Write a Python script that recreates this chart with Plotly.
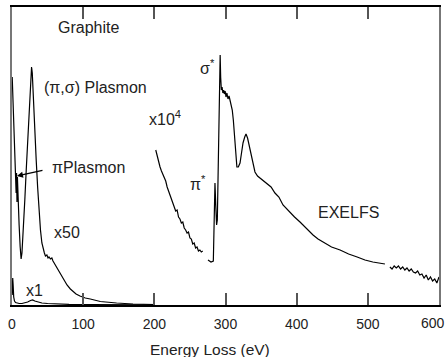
import plotly.graph_objects as go

# ---- data (energy loss in eV, intensity in arbitrary units) ----
x1_energy = [0.3, 1.0, 1.6, 2.4, 3.5, 5, 7, 10, 14, 18, 22, 26, 29, 32, 36, 42, 50, 60, 80, 110, 150, 200]
x1_intensity = [10, 27, 20, 8, 4, 2.5, 1.8, 1.5, 1.5, 2, 3, 4.5, 5, 4, 3, 2, 1.5, 1, 0.7, 0.5, 0.3, 0.2]

x50_energy = [0.3, 1.2, 2.2, 3.2, 4.2, 5.2, 5.8, 6.4, 7.0, 7.6, 8.5, 10, 11.5, 12.8, 14, 16, 18, 20, 22, 24,
              26, 27.5, 28.5, 30, 32, 34, 36, 38, 40, 42, 43.6, 45.5, 47, 49, 50.6, 52, 54, 56, 57.6, 60,
              63, 66, 70, 73, 77.3, 82, 86, 90, 95.5, 103, 110, 124, 147, 170, 200]
x50_intensity = [228, 205, 180, 158, 140, 128, 112, 132, 103, 128, 100, 80, 58, 46, 52, 75, 105, 135, 165, 195,
                 222, 238, 232, 205, 175, 145, 118, 95, 75, 62, 56, 52, 49, 50, 47, 48, 46, 47, 44, 41,
                 37, 33, 28, 24, 20, 16, 13, 11, 9, 7, 6, 3.5, 2, 1, 0.5]

pre_edge_energy = [202, 204, 206, 208, 210, 212, 214, 216, 218, 220, 222, 224, 226, 228, 230, 232, 234,
                   236, 238, 240, 242, 244, 246, 248, 250, 252, 254, 256, 258, 260, 262, 264, 266, 268]
pre_edge_intensity = [155, 149, 142, 138, 134, 131, 127, 124, 118, 114, 108, 106, 100, 98, 94, 95, 88,
                      86, 82, 83, 77, 75, 72, 73, 67, 66, 61, 62, 57, 58, 54, 55, 53, 54]

edge_energy = [275.4, 279.6, 282.9, 284.2, 285.2, 286.3, 287.5, 288.5, 292.5, 293.2, 294.2, 295.2, 296.3,
               297.3, 298.5, 299.5, 300.7, 302, 303.5, 305, 306.3, 308, 309.5, 311, 313.3, 316, 318, 320.4,
               322.5, 324.6, 327, 328.8, 331, 333.5, 337.2, 341.4, 345, 348.5, 353, 358.3, 364, 369.5, 375,
               380.8, 386, 390.6, 397, 404.7, 414, 423, 430, 437, 449, 461, 473, 485, 496, 507, 515, 524]
edge_intensity = [45, 43, 44, 90, 122, 100, 80, 85, 250, 228, 215, 218, 212,
                  215, 211, 214, 208, 212, 206, 209, 204, 200, 195, 185, 160, 138, 138, 142,
                  152, 162, 168, 171, 167, 158, 145, 133, 129, 127, 125, 122, 118, 112, 108,
                  100, 96, 93, 88, 83, 76, 70, 66, 63, 58, 55, 51, 48, 45, 43, 42, 41]

tail_energy = [531, 534, 537, 540, 543, 546, 549, 552, 555, 558, 561, 564, 567, 570, 573, 576, 579, 582,
               585, 588, 591, 594, 597, 600]
tail_intensity = [38, 36, 39, 37, 39, 36, 38, 35, 37, 34, 36, 33, 32, 34, 30, 31, 27, 30,
                  25, 28, 24, 26, 22, 28]

tick_values = [0, 100, 200, 300, 400, 500, 600]
tick_labels = ["0", "100", "200", "300", "400", "500", "600"]

FONT = "Liberation Sans, Arial, Helvetica, sans-serif"
line = dict(color="black", width=1.2)

fig = go.Figure()
for xs, ys in [(x1_energy, x1_intensity), (x50_energy, x50_intensity),
               (pre_edge_energy, pre_edge_intensity), (edge_energy, edge_intensity),
               (tail_energy, tail_intensity)]:
    fig.add_trace(go.Scatter(x=xs, y=ys, mode="lines", line=line, hoverinfo="skip"))

def label(text, x, y, anchor="left", size=16):
    fig.add_annotation(x=x, y=y, text=text, showarrow=False, xanchor=anchor, yanchor="middle",
                       font=dict(family=FONT, size=size, color="#222"))

label("Graphite", 107.5, 278, anchor="center")
label("(π,σ) Plasmon", 42, 218)
label("πPlasmon", 53.4, 138)
label("x50", 56.2, 73)
label("x1", 16.9, 15)
label("x10<sup>4</sup>", 189.7, 187)
label("σ<sup>*</sup>", 261.3, 238)
label("π<sup>*</sup>", 247.3, 122)
label("EXELFS", 427.1, 93)

# arrow pointing to the pi plasmon
fig.add_annotation(x=7.0, y=129, ax=27, ay=-6, axref="pixel", ayref="pixel", text="",
                   showarrow=True, arrowhead=2, arrowsize=1, arrowwidth=1.2, arrowcolor="black")

# last tick label drawn flush with the right edge so it is not clipped
shown_labels = tick_labels[:-1] + [""]
fig.add_annotation(x=1.0187, y=-0.062, xref="paper", yref="paper", text=tick_labels[-1],
                   showarrow=False, xanchor="right", yanchor="middle",
                   font=dict(family=FONT, size=14, color="#222"))

# axis title
fig.add_annotation(x=0.4637, y=-0.151, xref="paper", yref="paper", text="Energy Loss (eV)",
                   showarrow=False, xanchor="center", yanchor="middle",
                   font=dict(family=FONT, size=15.5, color="#222"))

fig.update_layout(
    width=448, height=357,
    margin=dict(l=12, r=9, t=7, b=52, autoexpand=False),
    showlegend=False,
    plot_bgcolor="white", paper_bgcolor="white",
    xaxis=dict(range=[0, 600], tickvals=tick_values, ticktext=shown_labels,
               ticks="inside", ticklen=12, tickwidth=1.5, tickcolor="#555",
               showline=True, linecolor="black", linewidth=1.5, mirror="ticks",
               showgrid=False, zeroline=False, ticklabelstandoff=5,
               automargin=False,
               tickfont=dict(family=FONT, size=14, color="#222")),
    yaxis=dict(range=[0, 298], showticklabels=False, ticks="",
               showline=True, linecolor="#777", linewidth=2, mirror=True,
               showgrid=False, zeroline=False, automargin=False),
)

fig.write_html("out.html", config={"displayModeBar": False},
               post_script="document.body.style.margin='0';document.body.style.padding='0';")
